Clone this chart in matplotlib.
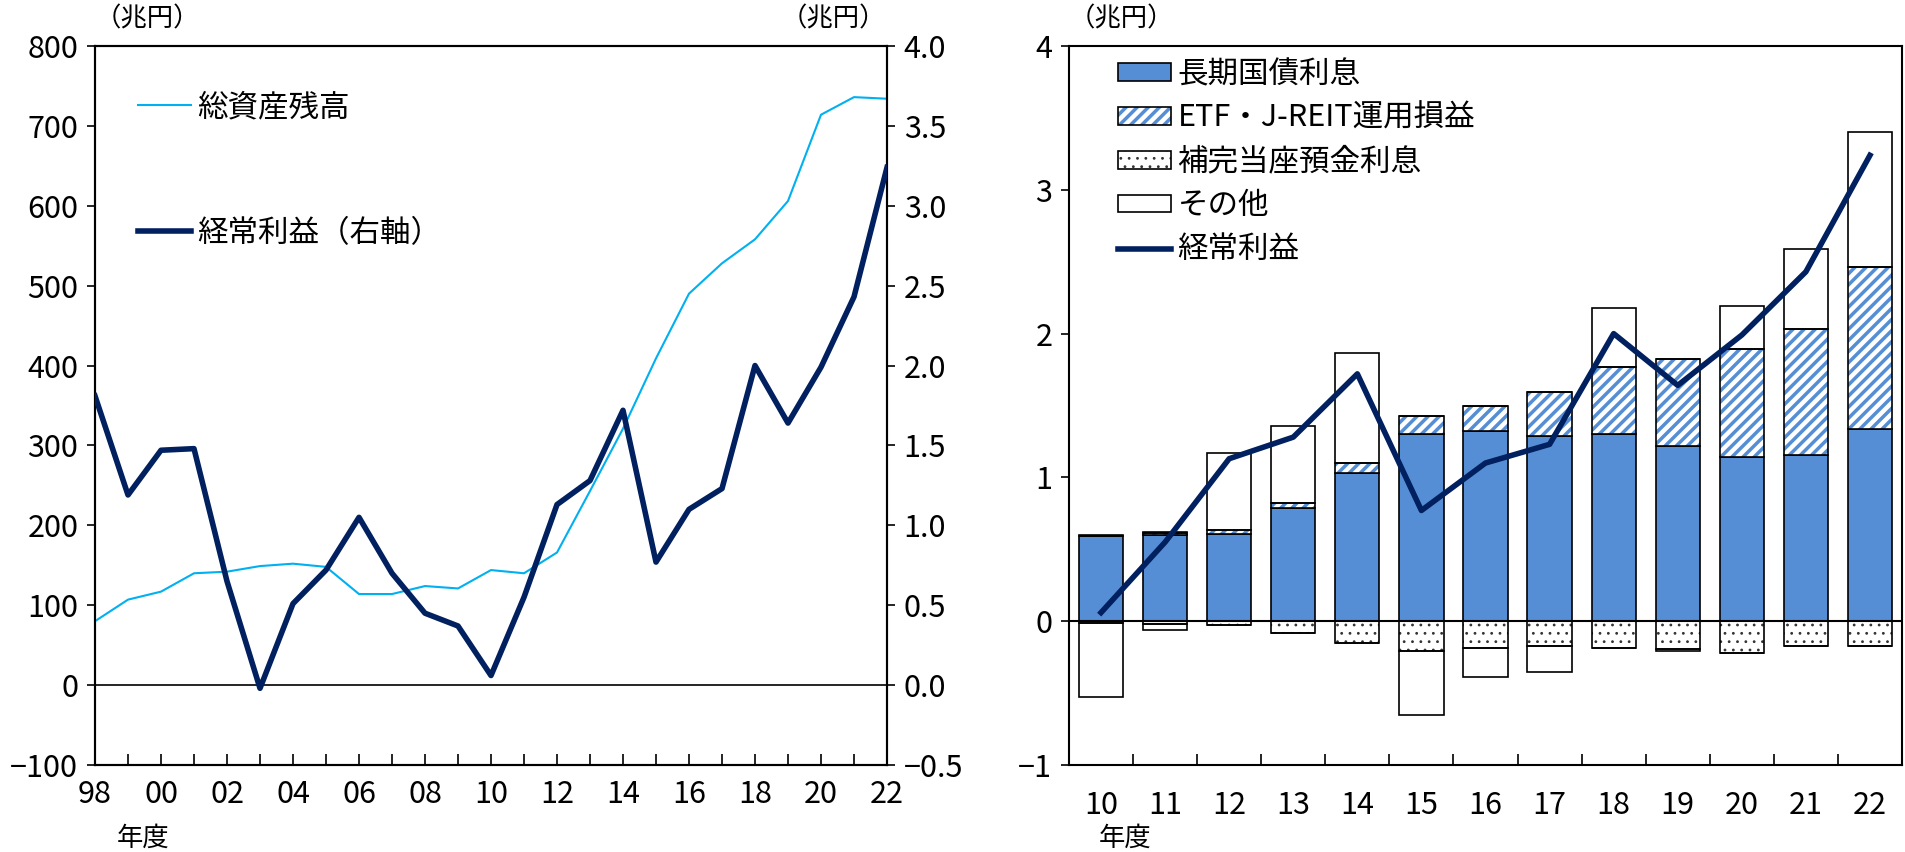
"""
BOJ-style two-panel chart: total assets vs ordinary profit, and profit breakdown.
"""

import matplotlib

matplotlib.use("Agg")
import matplotlib.pyplot as plt
import numpy as np
from matplotlib.lines import Line2D
from matplotlib.patches import Patch

plt.rcParams["font.family"] = ["Noto Sans CJK JP", "DejaVu Sans"]
plt.rcParams["hatch.linewidth"] = 0.8

# left panel: fiscal 1998-2022
fy_left = ["98", "99", "00", "01", "02", "03", "04", "05", "06", "07", "08", "09", "10",
           "11", "12", "13", "14", "15", "16", "17", "18", "19", "20", "21", "22"]
total_assets = [80, 107, 117, 140, 142, 149, 152, 148, 114, 114, 124, 121, 144,
                140, 166, 243, 321, 409, 490, 528, 558, 606, 714, 736, 734]
ordinary_profit = [1.81, 1.19, 1.47, 1.48, 0.65, -0.02, 0.51, 0.72, 1.05, 0.70, 0.45, 0.37, 0.06,
                   0.55, 1.13, 1.28, 1.72, 0.77, 1.10, 1.23, 2.00, 1.64, 1.99, 2.43, 3.24]

# right panel: fiscal 2010-2022 breakdown (trillion yen)
fy_right = ["10", "11", "12", "13", "14", "15", "16", "17", "18", "19", "20", "21", "22"]
jgb_interest = [0.59, 0.60, 0.605, 0.785, 1.03, 1.305, 1.32, 1.29, 1.305, 1.22, 1.14, 1.155, 1.34]
etf_reit = [0.00, 0.01, 0.03, 0.035, 0.07, 0.12, 0.18, 0.305, 0.465, 0.60, 0.755, 0.875, 1.125]
other_pos = [0.01, 0.01, 0.535, 0.54, 0.765, 0.0, 0.0, 0.0, 0.41, 0.0, 0.30, 0.56, 0.935]
compl_interest = [-0.01, -0.02, -0.026, -0.08, -0.15, -0.21, -0.185, -0.17, -0.185, -0.195, -0.22, -0.175, -0.175]
other_neg = [-0.52, -0.04, 0.0, 0.0, 0.0, -0.445, -0.205, -0.185, 0.0, -0.01, 0.0, 0.0, 0.0]
profit_right = ordinary_profit[12:]

BLUE = "#558ED5"
LIGHT = "#00B0F0"
NAVY = "#002060"
FS = 22
W, H = 1905, 852


def fx(px):
    return px / W


def fy(py):
    return 1 - py / H


def thick_hatch(patches, lw):
    # per-patch hatch width where the installed matplotlib supports it
    for p in patches:
        if hasattr(p, "set_hatch_linewidth"):
            p.set_hatch_linewidth(lw)


fig = plt.figure(figsize=(W / 100, H / 100), dpi=100)

# ---------------- left panel ----------------
ax1 = fig.add_axes([fx(95), fy(765), fx(887) - fx(95), fy(46) - fy(765)])
x = np.arange(len(fy_left))
ax1.plot(x, total_assets, color=LIGHT, lw=1.5, zorder=3)
ax1.axhline(0, color="black", lw=1.2, zorder=2)
ax1.set_xlim(0, len(fy_left) - 1)
ax1.set_ylim(-100, 800)
ax1.set_yticks(np.arange(-100, 801, 100))
ax1.set_xticks(x)
ax1.set_xticklabels([lab if i % 2 == 0 else "" for i, lab in enumerate(fy_left)])
ax1.tick_params(axis="x", direction="in", length=8, width=1.2, labelsize=FS, pad=10)
ax1.tick_params(axis="y", direction="out", length=6, width=1.2, labelsize=FS, pad=6)

ax2 = ax1.twinx()
ax2.plot(x, ordinary_profit, color=NAVY, lw=4, zorder=4)
ax2.set_ylim(-0.5, 4.0)
ax2.set_yticks(np.arange(-0.5, 4.01, 0.5))
ax2.set_yticklabels([f"{v:.1f}".replace("-", "\u2212") for v in np.arange(-0.5, 4.01, 0.5)])
ax2.tick_params(axis="y", direction="out", length=6, width=1.2, labelsize=FS, pad=6)

for a in (ax1, ax2):
    for s in a.spines.values():
        s.set_linewidth(1.5)

h1 = Line2D([], [], color=LIGHT, lw=1.5)
h2 = Line2D([], [], color=NAVY, lw=4)
fig.legend([h1, h2], ["総資産残高", "経常利益（右軸）"], loc="upper left",
           bbox_to_anchor=(fx(138), fy(92)), frameon=False, fontsize=FS,
           handlelength=1.75, handletextpad=0.2, labelspacing=3.1,
           borderpad=0, borderaxespad=0)

fig.text(fx(95), fy(19), "（兆円）", fontsize=19, ha="left", va="center")
fig.text(fx(886), fy(19), "（兆円）", fontsize=19, ha="right", va="center")
fig.text(fx(117), fy(838), "年度", fontsize=19, ha="left", va="center")

# ---------------- right panel ----------------
ax3 = fig.add_axes([fx(1069), fy(765), fx(1902) - fx(1069), fy(46) - fy(765)])
xr = np.arange(len(fy_right))
bw = 0.69
jgb = np.array(jgb_interest)
etf = np.array(etf_reit)
op = np.array(other_pos)
ci = np.array(compl_interest)
on = np.array(other_neg)

ax3.bar(xr, jgb, bw, color=BLUE, edgecolor="black", lw=1.2, zorder=2)
etf_bars = ax3.bar(xr, etf, bw, bottom=jgb, color="white", edgecolor=BLUE, hatch="///", lw=0, zorder=2)
thick_hatch(etf_bars, 2.5)
ax3.bar(xr, etf, bw, bottom=jgb, fill=False, edgecolor="black", lw=1.2, zorder=3)
ax3.bar(xr, op, bw, bottom=jgb + etf, color="white", edgecolor="black", lw=1.2, zorder=2)
ax3.bar(xr, ci, bw, color="white", edgecolor="#333333", hatch="..", lw=0, zorder=2)
ax3.bar(xr, ci, bw, fill=False, edgecolor="black", lw=1.2, zorder=3)
ax3.bar(xr, on, bw, bottom=ci, color="white", edgecolor="black", lw=1.2, zorder=2)
ax3.axhline(0, color="black", lw=1.5, zorder=4)
ax3.plot(xr, profit_right, color=NAVY, lw=4, zorder=5)

ax3.set_xlim(-0.5, len(fy_right) - 0.5)
ax3.set_ylim(-1, 4)
ax3.set_yticks(np.arange(-1, 5, 1))
ax3.set_yticklabels([str(v).replace("-", "\u2212") for v in range(-1, 5)])
ax3.set_xticks(np.arange(0.5, len(fy_right) - 1, 1))
ax3.set_xticklabels([])
ax3.set_xticks(xr, minor=True)
ax3.set_xticklabels(fy_right, minor=True)
ax3.tick_params(axis="x", which="major", direction="in", length=8, width=1.2)
ax3.tick_params(axis="x", which="minor", length=0, labelsize=FS, pad=18)
ax3.tick_params(axis="y", direction="out", length=6, width=1.2, labelsize=FS, pad=6)
for s in ax3.spines.values():
    s.set_linewidth(1.5)

p_jgb = Patch(facecolor=BLUE, edgecolor="black", lw=1.2)
p_etf_fill = Patch(facecolor="white", edgecolor=BLUE, hatch="///", lw=0)
p_etf = (p_etf_fill, Patch(fill=False, edgecolor="black", lw=1.2))
p_ci = (Patch(facecolor="white", edgecolor="#333333", hatch="..", lw=0),
        Patch(fill=False, edgecolor="black", lw=1.2))
p_on = Patch(facecolor="white", edgecolor="black", lw=1.2)
l_op = Line2D([], [], color=NAVY, lw=4)
leg = fig.legend([p_jgb, p_etf, p_ci, p_on, l_op],
                 ["長期国債利息", "ETF・J-REIT運用損益", "補完当座預金利息", "その他", "経常利益"],
                 loc="upper left", bbox_to_anchor=(fx(1118), fy(59)), frameon=False, fontsize=FS,
                 handlelength=1.75, handleheight=0.5, handletextpad=0.2, labelspacing=0.42,
                 borderpad=0, borderaxespad=0)
for art in leg.findobj(Patch):
    if art.get_hatch() == "///":
        thick_hatch([art], 2.5)

fig.text(fx(1069), fy(19), "（兆円）", fontsize=19, ha="left", va="center")
fig.text(fx(1099), fy(838), "年度", fontsize=19, ha="left", va="center")

fig.savefig("out.png", dpi=100)
